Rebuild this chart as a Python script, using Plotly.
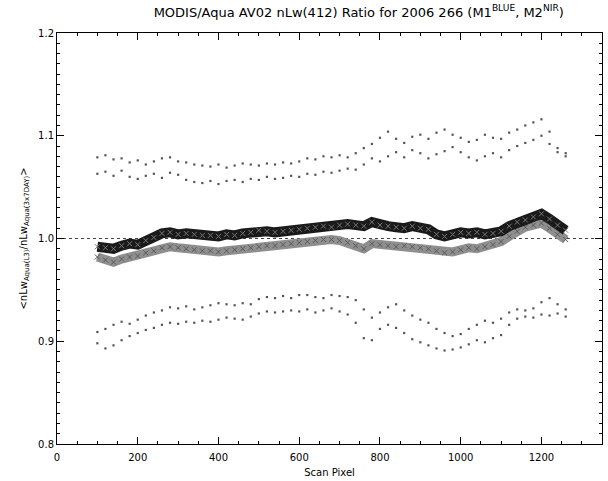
import plotly.graph_objects as go

# Scan pixel positions (every 20 pixels)
scan_pixel = list(range(100, 1261, 20))

# M1 ratio (black band)
m1_ratio = [0.992, 0.991, 0.990, 0.993, 0.995, 0.994, 0.998, 1.001, 1.005, 1.006,
            1.004, 1.005, 1.004, 1.003, 1.003, 1.002, 1.004, 1.003, 1.005, 1.006,
            1.008, 1.007, 1.006, 1.007, 1.008, 1.009, 1.010, 1.011, 1.012, 1.011,
            1.013, 1.014, 1.013, 1.012, 1.016, 1.013, 1.012, 1.011, 1.010, 1.012,
            1.010, 1.009, 1.004, 1.002, 1.004, 1.006, 1.005, 1.006, 1.004, 1.005,
            1.007, 1.012, 1.016, 1.018, 1.021, 1.024, 1.019, 1.013, 1.008]

# M2 ratio (gray band)
m2_ratio = [0.982, 0.979, 0.977, 0.980, 0.982, 0.983, 0.986, 0.988, 0.991, 0.992,
            0.991, 0.990, 0.989, 0.988, 0.988, 0.987, 0.988, 0.989, 0.990, 0.991,
            0.992, 0.993, 0.993, 0.994, 0.995, 0.996, 0.997, 0.998, 0.999, 0.999,
            0.998, 0.996, 0.993, 0.990, 0.995, 0.994, 0.993, 0.992, 0.993, 0.992,
            0.991, 0.990, 0.988, 0.986, 0.987, 0.989, 0.991, 0.990, 0.992, 0.994,
            0.997, 1.002, 1.007, 1.011, 1.013, 1.015, 1.010, 1.004, 0.999]

# Upper spread curves (dotted)
upper_a = [1.079, 1.081, 1.077, 1.078, 1.074, 1.076, 1.072, 1.075, 1.078, 1.079,
           1.075, 1.074, 1.072, 1.071, 1.070, 1.072, 1.069, 1.071, 1.073, 1.072,
           1.071, 1.073, 1.072, 1.074, 1.073, 1.075, 1.078, 1.077, 1.080, 1.079,
           1.081, 1.079, 1.083, 1.088, 1.092, 1.098, 1.104, 1.097, 1.093, 1.099,
           1.101, 1.097, 1.103, 1.106, 1.101, 1.098, 1.094, 1.096, 1.101, 1.098,
           1.097, 1.103, 1.106, 1.110, 1.113, 1.116, 1.104, 1.088, 1.083]
upper_b = [1.063, 1.065, 1.061, 1.066, 1.060, 1.058, 1.061, 1.063, 1.059, 1.064,
           1.062, 1.057, 1.055, 1.054, 1.056, 1.053, 1.056, 1.057, 1.055, 1.058,
           1.057, 1.060, 1.058, 1.059, 1.061, 1.060, 1.063, 1.062, 1.065, 1.064,
           1.066, 1.068, 1.067, 1.072, 1.078, 1.075, 1.080, 1.084, 1.079, 1.086,
           1.083, 1.078, 1.082, 1.085, 1.089, 1.084, 1.079, 1.076, 1.080, 1.083,
           1.079, 1.086, 1.090, 1.093, 1.096, 1.100, 1.092, 1.084, 1.080]

# Lower spread curves (dotted)
lower_a = [0.909, 0.912, 0.916, 0.919, 0.917, 0.921, 0.925, 0.928, 0.930, 0.933,
           0.932, 0.934, 0.931, 0.933, 0.935, 0.937, 0.936, 0.935, 0.937, 0.936,
           0.941, 0.943, 0.942, 0.944, 0.942, 0.945, 0.945, 0.943, 0.942, 0.945,
           0.944, 0.943, 0.940, 0.931, 0.923, 0.928, 0.933, 0.936, 0.930, 0.925,
           0.921, 0.918, 0.912, 0.908, 0.905, 0.907, 0.912, 0.916, 0.920, 0.918,
           0.922, 0.928, 0.931, 0.930, 0.932, 0.938, 0.942, 0.936, 0.931]
lower_b = [0.898, 0.893, 0.896, 0.901, 0.905, 0.908, 0.911, 0.913, 0.916, 0.918,
           0.917, 0.919, 0.918, 0.920, 0.919, 0.921, 0.923, 0.922, 0.921, 0.924,
           0.927, 0.929, 0.928, 0.929, 0.930, 0.929, 0.931, 0.928, 0.930, 0.932,
           0.929, 0.926, 0.918, 0.903, 0.901, 0.912, 0.916, 0.913, 0.908, 0.902,
           0.899, 0.896, 0.893, 0.891, 0.892, 0.894, 0.897, 0.901, 0.899, 0.903,
           0.906, 0.916, 0.922, 0.924, 0.923, 0.926, 0.925, 0.927, 0.924]

# Reference line at ratio 1
ref_x = [0, 1350]
ref_y = [1.0, 1.0]

x_ticks = [0, 200, 400, 600, 800, 1000, 1200]
y_ticks = [0.8, 0.9, 1.0, 1.1, 1.2]

FONT = "DejaVu Sans"

fig = go.Figure()

fig.add_trace(go.Scatter(x=ref_x, y=ref_y, mode="lines",
                         line=dict(color="#444444", width=1.2, dash="dot"),
                         showlegend=False, hoverinfo="skip"))

for series in (upper_a, upper_b, lower_a, lower_b):
    fig.add_trace(go.Scatter(x=scan_pixel, y=series, mode="markers",
                             marker=dict(symbol="square", size=2.2, color="#555555",
                                         line=dict(width=0)),
                             showlegend=False))

fig.add_trace(go.Scatter(x=scan_pixel, y=m2_ratio, mode="lines+markers",
                         line=dict(color="#8f8f8f", width=9),
                         marker=dict(symbol="x-thin-open", size=5, color="#5a5a5a",
                                     line=dict(width=1, color="#5a5a5a")),
                         showlegend=False))
fig.add_trace(go.Scatter(x=scan_pixel, y=m1_ratio, mode="lines+markers",
                         line=dict(color="#1a1a1a", width=10),
                         marker=dict(symbol="x-thin-open", size=5, color="#777777",
                                     line=dict(width=1, color="#777777")),
                         showlegend=False))

axis_common = dict(
    showgrid=False, zeroline=False, showline=True, linecolor="black", linewidth=1,
    mirror="allticks", ticks="inside", ticklen=7, tickcolor="black", tickwidth=1,
    tickfont=dict(family=FONT, size=10, color="black"), automargin=False,
)

fig.update_xaxes(range=[0, 1350], tickvals=x_ticks, ticktext=[str(v) for v in x_ticks],
                 minor=dict(dtick=50, ticks="inside", ticklen=3, tickcolor="black"),
                 ticklabelstandoff=4,
                 title=dict(text="Scan Pixel", font=dict(family=FONT, size=10, color="black"),
                            standoff=6),
                 **axis_common)
fig.update_yaxes(range=[0.8, 1.2], tickvals=y_ticks, ticktext=[f"{v:.1f}" for v in y_ticks],
                 minor=dict(dtick=0.01, ticks="inside", ticklen=3, tickcolor="black"),
                 title=dict(text="<nLw<sub>Aqua(L3)</sub>/nLw<sub>Aqua(3x7DAY)</sub>>",
                            font=dict(family=FONT, size=10, color="black"), standoff=8),
                 **axis_common)

fig.update_layout(
    width=608, height=481,
    margin=dict(l=57, r=6, t=33, b=37),
    paper_bgcolor="white", plot_bgcolor="white",
    title=dict(text="MODIS/Aqua AV02 nLw(412) Ratio for 2006 266 (M1<sup>BLUE</sup>, M2<sup>NIR</sup>)",
               font=dict(family=FONT, size=13, color="black"),
               x=0.59, xanchor="center", y=1 - 12 / 481, yanchor="middle", yref="container"),
)

fig.write_html("out.html", config={"displayModeBar": False},
               post_script="document.body.style.margin='0px';document.body.style.overflow='hidden';")
